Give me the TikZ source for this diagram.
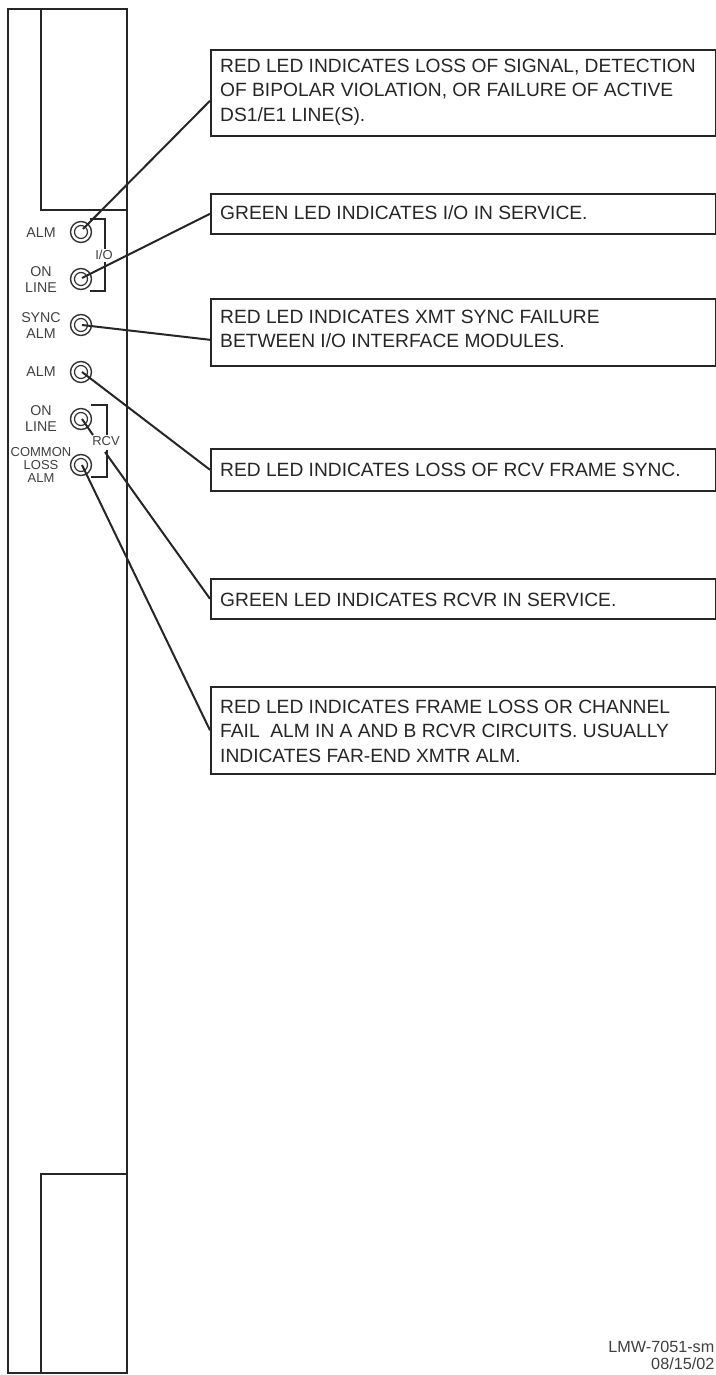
\documentclass[tikz,border=0pt]{standalone}
\usepackage{fontspec}
\setmainfont{Liberation Sans}
\tikzset{
  frame/.style={draw=black!85,line width=2.2pt},
  bracket/.style={draw=black!85,line width=1.9pt},
  leader/.style={draw=black!85,line width=2pt},
  note/.style={draw=black!85,line width=1.6pt,rectangle,anchor=north west,minimum width=505pt,inner sep=0pt},
  notetext/.style={align=left,font=\fontsize{19.2}{24.6}\selectfont,text=black!85,anchor=west,inner sep=0pt},
  lbl/.style={align=center,font=\fontsize{14.2}{16.6}\selectfont,text=black!75,inner sep=0pt},
  ledo/.style={circle,draw=black!80,line width=1.4pt,minimum size=21pt,inner sep=0pt},
  ledi/.style={circle,draw=black!80,line width=1.2pt,minimum size=13pt,inner sep=0pt},
}
\begin{document}
\begin{tikzpicture}[x=1pt,y=-1pt]
\useasboundingbox (0,0) rectangle (715,1375);
\fill[white] (0,0) rectangle (715,1375);
\draw[frame] (8,9) rectangle (127,1373);
\draw[frame] (41,9) -- (41,210) -- (127,210);
\draw[frame] (41,1373) -- (41,1174) -- (127,1174);
\node[ledo] (a) at (81,232) {}; \node[ledi] at (81,232) {};
\node[ledo] (b) at (81,279) {}; \node[ledi] at (81,279) {};
\node[ledo] (c) at (81,325) {}; \node[ledi] at (81,325) {};
\node[ledo] (d) at (81,372) {}; \node[ledi] at (81,372) {};
\node[ledo] (e) at (81,419) {}; \node[ledi] at (81,419) {};
\node[ledo] (f) at (81,465) {}; \node[ledi] at (81,465) {};
\coordinate (ac) at (83,229); \coordinate (bc) at (82,278); \coordinate (cc) at (82,325);
\coordinate (dc) at (82,372); \coordinate (ec) at (82,419); \coordinate (fc) at (82,465);
\node[lbl] (l1) at (41,233) {ALM};
\node[lbl] (l2) at (41,279.5) {ON\\LINE};
\node[lbl] (l3) at (41,325.5) {SYNC\\ALM};
\node[lbl] (l4) at (41,372) {ALM};
\node[lbl] (l5) at (41,418.5) {ON\\LINE};
\node[lbl,font=\fontsize{13}{13.2}\selectfont] (l6) at (41,465) {COMMON\\LOSS\\ALM};
\node[lbl,font=\fontsize{13}{15}\selectfont] (io) at (104,255) {I/O};
\node[lbl,font=\fontsize{13}{15}\selectfont] (rcv) at (106,441) {RCV};
\coordinate (io1) at (90,219); \coordinate (io2) at (105,219); \coordinate (io3) at (105,249);
\coordinate (io4) at (105,262); \coordinate (io5) at (105,291); \coordinate (io6) at (90,291);
\coordinate (rc1) at (91,405); \coordinate (rc2) at (107,405); \coordinate (rc3) at (107,435);
\coordinate (rc4) at (107,450); \coordinate (rc5) at (107,477); \coordinate (rc6) at (91,477);
\draw[bracket] (io1) -- (io2) -- (io3);
\draw[bracket] (io4) -- (io5) -- (io6);
\draw[bracket] (rc1) -- (rc2) -- (rc3);
\draw[bracket] (rc4) -- (rc5) -- (rc6);
\node[note,minimum height=86pt] (n1) at (210,49) {};
\node[notetext] (t1) at (220,92) {RED LED INDICATES LOSS OF SIGNAL, DETECTION\\OF BIPOLAR VIOLATION, OR FAILURE OF ACTIVE\\DS1/E1 LINE(S).};
\node[note,minimum height=40pt] (n2) at (210,193) {};
\node[notetext] (t2) at (220,213) {GREEN LED INDICATES I/O IN SERVICE.};
\node[note,minimum height=67pt] (n3) at (210,298) {};
\node[notetext] (t3) at (220,329) {RED LED INDICATES XMT SYNC FAILURE\\BETWEEN I/O INTERFACE MODULES.};
\node[note,minimum height=42pt] (n4) at (210,448) {};
\node[notetext] (t4) at (220,470) {RED LED INDICATES LOSS OF RCV FRAME SYNC.};
\node[note,minimum height=40pt] (n5) at (210,578) {};
\node[notetext] (t5) at (220,600) {GREEN LED INDICATES RCVR IN SERVICE.};
\node[note,minimum height=87pt] (n6) at (210,686) {};
\node[notetext] (t6) at (220,731) {RED LED INDICATES FRAME LOSS OR CHANNEL\\FAIL\ \ ALM IN A AND B RCVR CIRCUITS. USUALLY\\INDICATES FAR-END XMTR ALM.};
\coordinate (lg) at (93,435);
\coordinate (lh) at (105,452);
\draw[leader] (ac) -- ([yshift=-8pt]n1.west);
\draw[leader] (bc) -- (n2.west);
\draw[leader] (cc) -- ([yshift=-7.5pt]n3.west);
\draw[leader] (dc) -- (n4.west);
\draw[leader] (ec) -- (lg);
\draw[leader] (lh) -- (n5.west);
\draw[leader] (fc) -- (n6.west);
\node[align=right,anchor=east,inner sep=0pt,font=\fontsize{16.2}{17}\selectfont,text=black!75] (tag) at (714.5,1355.5) {LMW-7051-sm\\08/15/02};
\end{tikzpicture}
\end{document}
